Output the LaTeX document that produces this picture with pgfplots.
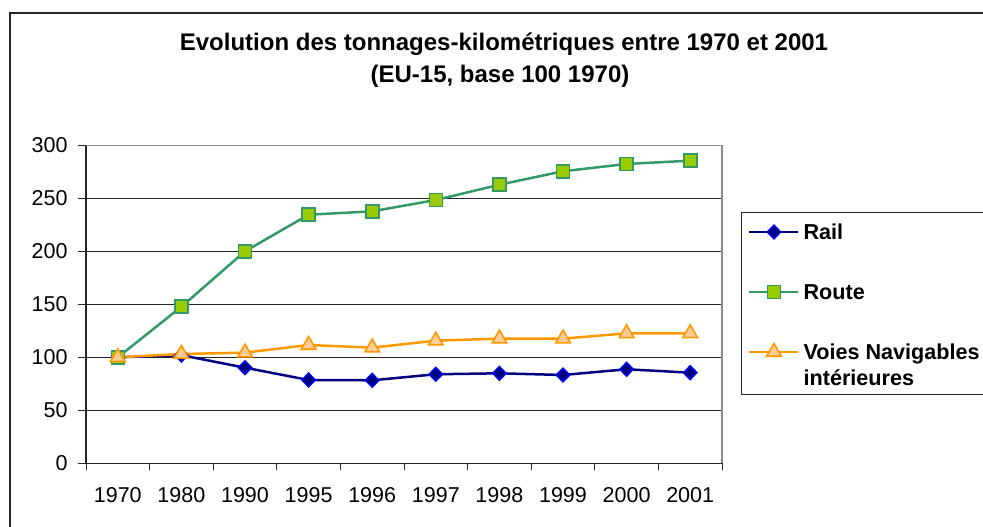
\documentclass[border=0pt]{standalone}
\usepackage{pgfplots}
\pgfplotsset{compat=1.18}
\usepackage{fontspec}
\setmainfont{Liberation Sans}
\definecolor{railc}{HTML}{000080}
\definecolor{railm}{HTML}{0000FF}
\definecolor{routec}{HTML}{339966}
\definecolor{routef}{HTML}{99CC00}
\definecolor{voiec}{HTML}{FF9900}
\definecolor{voief}{HTML}{FFCC99}
\begin{document}
\begin{tikzpicture}
\path[use as bounding box] (0pt,0pt) rectangle (983pt,527pt);
\draw[line width=1.3pt, black!85] (10pt,-10pt) -- (10pt,514pt) -- (995pt,514pt);
\node[font=\fontsize{24}{28}\selectfont\bfseries] at (504pt,483pt) {Evolution des tonnages-kilométriques entre 1970 et 2001};
\node[font=\fontsize{24}{28}\selectfont\bfseries] at (500pt,451pt) {(EU-15, base 100 1970)};
\draw[line width=1pt, black!85] (741pt,314.3pt) rectangle (995pt,132pt);
\begin{axis}[
  at={(86pt,63.7pt)}, anchor=south west,
  scale only axis, width=636pt, height=318pt,
  xmin=0.5, xmax=10.5, ymin=0, ymax=300,
  axis lines*=left,
  axis line style={line width=1.3pt, black!85},
  tick align=outside,
  ytick={0,50,...,300},
  xtick={1,...,10},
  xticklabels={1970,1980,1990,1995,1996,1997,1998,1999,2000,2001},
  minor xtick={0.5,1.5,...,10.5},
  major tick length=8pt,
  minor tick length=7pt,
  every major x tick/.append style={draw=none},
  every minor x tick/.append style={draw=black!85, line width=1pt},
  every major y tick/.append style={draw=black!85, line width=1pt},
  ymajorgrids,
  grid style={black!85, line width=0.9pt},
  tick label style={font=\fontsize{21.5}{25}\selectfont},
  xticklabel style={yshift=-13pt},
  yticklabel style={xshift=-7pt},
  /pgf/number format/assume math mode=true,
  clip=false,
  legend image code/.code={\draw[mark repeat=2,mark phase=2,#1] plot coordinates {(0pt,7.5pt) (24.5pt,7.5pt) (49pt,7.5pt)};},
  legend style={at={(1.0409,0.7547)}, anchor=north west, draw=none, fill=none,
    inner sep=0pt, row sep=39pt, column sep=3.9pt,
    font=\fontsize{21.6}{25.7}\selectfont\bfseries,
    cells={anchor=base west},
    nodes={inner sep=0pt, text height=16pt, text depth=5pt, anchor=base west}},
]
\draw[black!45, line width=1.3pt] (rel axis cs:0,1) -- (rel axis cs:1,1) -- (rel axis cs:1,0);
\addplot[railc, line width=2.5pt, mark=diamond*, mark size=7pt,
  mark options={fill=railc, draw=railm, line width=1.3pt, xscale=1.3}]
  coordinates {(1,100) (2,102) (3,90.2) (4,78.6) (5,78.3) (6,84) (7,84.9) (8,83.3) (9,88.7) (10,85.5)};
\addlegendentry{Rail}
\addplot[routec, line width=2.5pt, mark=square*, mark size=6.5pt,
  mark options={fill=routef, draw=routec, line width=1.6pt}]
  coordinates {(1,100) (2,147.7) (3,200) (4,234.5) (5,237.7) (6,248.4) (7,262.8) (8,275.5) (9,282.4) (10,285.5)};
\addlegendentry{Route}
\addplot[voiec, line width=2.5pt, mark=triangle*, mark size=8.5pt,
  mark options={fill=voief, draw=voiec, line width=1.6pt}]
  coordinates {(1,100) (2,103.1) (3,104.4) (4,111.6) (5,109.1) (6,115.7) (7,117.6) (8,117.6) (9,122.6) (10,122.6)};
\addlegendentry{\begin{tabular}[t]{@{}l@{}}Voies Navigables\\intérieures\end{tabular}}
\end{axis}
\end{tikzpicture}
\end{document}
